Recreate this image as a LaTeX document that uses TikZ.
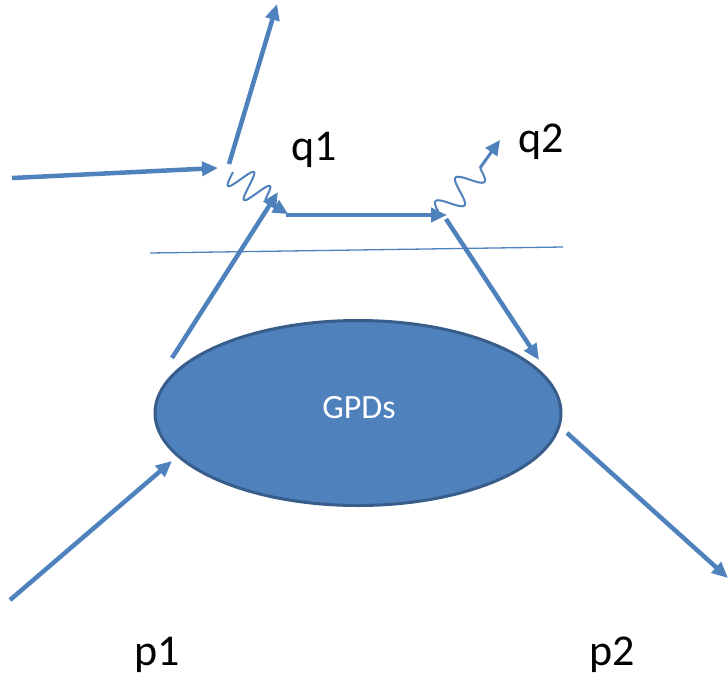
\documentclass[tikz,border=0pt]{standalone}
\usepackage{fontspec}
\setmainfont{Carlito}
\usetikzlibrary{arrows.meta,shapes.geometric}
\definecolor{lineblue}{HTML}{4F81BD}
\definecolor{edgeblue}{HTML}{385D8A}
\tikzset{
  fermion/.style={draw=lineblue, line width=4.5pt, -{Triangle[length=16pt,width=14pt]}},
  wave/.style={draw=lineblue, line width=2pt},
  photonarrow/.style={draw=lineblue, line width=3pt, -{Triangle[length=15pt,width=14pt]}},
  lbl/.style={font=\fontsize{44}{50}\selectfont, text=black, inner sep=0pt, anchor=base}
}
\begin{document}
\begin{tikzpicture}[x=1pt,y=-1pt]
\useasboundingbox (0,0) rectangle (728,675);
% blob
\node[ellipse, draw=edgeblue, fill=lineblue, line width=3pt, minimum width=406pt, minimum height=185pt, inner sep=0pt] (gpd) at (358,413) {};
\node[text=white, font=\fontsize{34}{40}\selectfont, anchor=base, inner sep=0pt] (gpdl) at (359,418) {GPDs};
% coordinates
\coordinate (ein) at (12,178);
\coordinate (v1) at (218,168);
\coordinate (eo1) at (229,164);
\coordinate (eout) at (277,4);
\coordinate (ph1s) at (233,172);
\coordinate (ph1m) at (265,200);
\coordinate (ph1e) at (288,214);
\coordinate (qa) at (286,215);
\coordinate (qb) at (447,215);
\coordinate (ph2s) at (440,215);
\coordinate (ph2m) at (480,168);
\coordinate (ph2e) at (500,140);
\coordinate (qin0) at (172,358);
\coordinate (qin1) at (278,192);
\coordinate (qo0) at (446,219);
\coordinate (qo1) at (539,360);
\coordinate (cut0) at (150,253);
\coordinate (cut1) at (563,247);
\coordinate (p1a) at (10,600);
\coordinate (p1b) at (172,461);
\coordinate (p2a) at (567,433);
\coordinate (p2b) at (728,578);
% lines
\draw[fermion] (ein) -- (v1);
\draw[fermion] (eo1) -- (eout);
% photon 1
\draw[wave] plot[domain=0:1, samples=100, smooth] ({233+32*\x-9*sin(720*\x)}, {172+28*\x+10.5*sin(720*\x)});
\draw[photonarrow] (ph1m) -- (ph1e);
\draw[fermion] (qa) -- (qb);
% photon 2
\draw[wave] plot[domain=0:1, samples=100, smooth] ({440+40*\x-9.5*sin(720*\x)}, {215-47*\x-8*sin(720*\x)});
\draw[photonarrow] (ph2m) -- (ph2e);
\draw[fermion] (qin0) -- (qin1);
\draw[fermion] (qo0) -- (qo1);
\draw[draw=lineblue, line width=1.3pt] (cut0) -- (cut1);
\draw[fermion] (p1a) -- (p1b);
\draw[fermion] (p2a) -- (p2b);
% labels
\node[lbl] (q1) at (314,160) {q1};
\node[lbl] (q2) at (541,152) {q2};
\node[lbl] (p1) at (157,665) {p1};
\node[lbl] (p2) at (612,665) {p2};
\end{tikzpicture}
\end{document}
